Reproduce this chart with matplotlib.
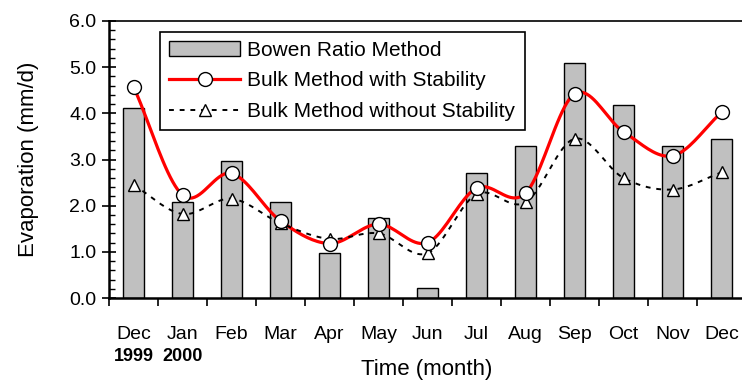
import numpy as np
import matplotlib.pyplot as plt
from matplotlib.ticker import MultipleLocator

plt.rcParams['font.family'] = ['Liberation Sans', 'DejaVu Sans']

# data
months = ['Dec', 'Jan', 'Feb', 'Mar', 'Apr', 'May', 'Jun',
          'Jul', 'Aug', 'Sep', 'Oct', 'Nov', 'Dec']
bowen = [4.12, 2.08, 2.96, 2.07, 0.97, 1.73, 0.22, 2.70, 3.30, 5.10, 4.18, 3.30, 3.45]
bulk_stab = [4.58, 2.23, 2.70, 1.67, 1.18, 1.60, 1.20, 2.38, 2.27, 4.42, 3.60, 3.08, 4.02]
bulk_nostab = [2.45, 1.82, 2.15, 1.62, 1.28, 1.40, 0.97, 2.25, 2.07, 3.45, 2.60, 2.35, 2.72]


def smooth(y, n=20):
    # catmull-rom curve through the points, like a spreadsheet "smoothed line"
    y = np.asarray(y, float)
    x = np.arange(len(y), dtype=float)
    px = np.concatenate([[2 * x[0] - x[1]], x, [2 * x[-1] - x[-2]]])
    py = np.concatenate([[2 * y[0] - y[1]], y, [2 * y[-1] - y[-2]]])
    xs, ys = [], []
    t = np.linspace(0, 1, n, endpoint=False)
    for i in range(1, len(px) - 2):
        for p, out in ((px, xs), (py, ys)):
            p0, p1, p2, p3 = p[i - 1], p[i], p[i + 1], p[i + 2]
            out.extend(0.5 * (2 * p1 + (-p0 + p2) * t
                              + (2 * p0 - 5 * p1 + 4 * p2 - p3) * t ** 2
                              + (-p0 + 3 * p1 - 3 * p2 + p3) * t ** 3))
    xs.append(x[-1])
    ys.append(y[-1])
    return np.array(xs), np.array(ys)


fig = plt.figure(figsize=(7.42, 3.81), dpi=100)
ax = fig.add_axes([0.1469, 0.2178, 0.8585, 0.7271])

x = np.arange(len(months))
h_bar = ax.bar(x, bowen, width=0.43, color='#c0c0c0', edgecolor='black',
               linewidth=1.0, zorder=2, label='Bowen Ratio Method')

sx, sy = smooth(bulk_stab)
ax.plot(sx, sy, color='red', lw=2.3, zorder=3)
ax.plot(x, bulk_stab, ls='none', marker='o', ms=10, mfc='white', mec='black',
        mew=1.0, zorder=5)
nx, ny = smooth(bulk_nostab)
ax.plot(nx, ny, color='black', lw=1.4, ls=(0, (2.5, 3)), zorder=3)
ax.plot(x, bulk_nostab, ls='none', marker='^', ms=8.5, mfc='white', mec='black',
        mew=1.0, zorder=4)

# legend proxies
h_stab, = ax.plot([], [], color='red', lw=2.3, marker='o', ms=10, mfc='white',
                  mec='black', mew=1.0, label='Bulk Method with Stability')
h_nostab, = ax.plot([], [], color='black', lw=1.4, ls=(0, (2.5, 3)), marker='^',
                    ms=8.5, mfc='white', mec='black', mew=1.0,
                    label='Bulk Method without Stability')
leg = ax.legend(handles=[h_bar, h_stab, h_nostab], loc='upper left',
                bbox_to_anchor=(0.08, 0.962), fontsize=15,
                frameon=True, fancybox=False, edgecolor='black', framealpha=1,
                handlelength=3.4, handletextpad=0.35, borderpad=0.45,
                labelspacing=0.55, borderaxespad=0)
leg.get_frame().set_linewidth(1.2)

ax.set_xlim(-0.5, 12.5)
ax.set_ylim(0, 6)
ax.yaxis.set_minor_locator(MultipleLocator(0.2))
ax.set_yticks(np.arange(0, 7))
ax.set_yticklabels([f'{v:.1f}' for v in np.arange(0, 7)])

ax.set_xticks(np.arange(-0.5, 13, 1.0))
ax.set_xticklabels([])
ax.set_xticks(x, minor=True)
ax.set_xticklabels(months, minor=True)
ax.tick_params(axis='x', which='major', direction='out', length=6, width=1.2)
ax.tick_params(axis='x', which='minor', direction='in', length=4, width=1.0,
               labelsize=14, pad=20)
ax.tick_params(axis='y', which='major', direction='inout', length=10, width=1.2,
               labelsize=14, pad=4)
ax.tick_params(axis='y', which='minor', direction='in', length=4, width=1.0)

for s in ['left', 'bottom']:
    ax.spines[s].set_linewidth(1.8)
ax.spines['top'].set_linewidth(1.2)
ax.spines['right'].set_visible(False)

ax.text(0, -0.18, '1999', transform=ax.get_xaxis_transform(), ha='center',
        va='top', fontsize=13, fontweight='bold')
ax.text(1, -0.18, '2000', transform=ax.get_xaxis_transform(), ha='center',
        va='top', fontsize=13, fontweight='bold')

ax.set_ylabel('Evaporation (mm/d)', fontsize=16, labelpad=22)
fig.text(427 / 742, 1 - 369 / 381, 'Time (month)', ha='center', va='center',
         fontsize=16)

fig.savefig('out.png', dpi=100)
